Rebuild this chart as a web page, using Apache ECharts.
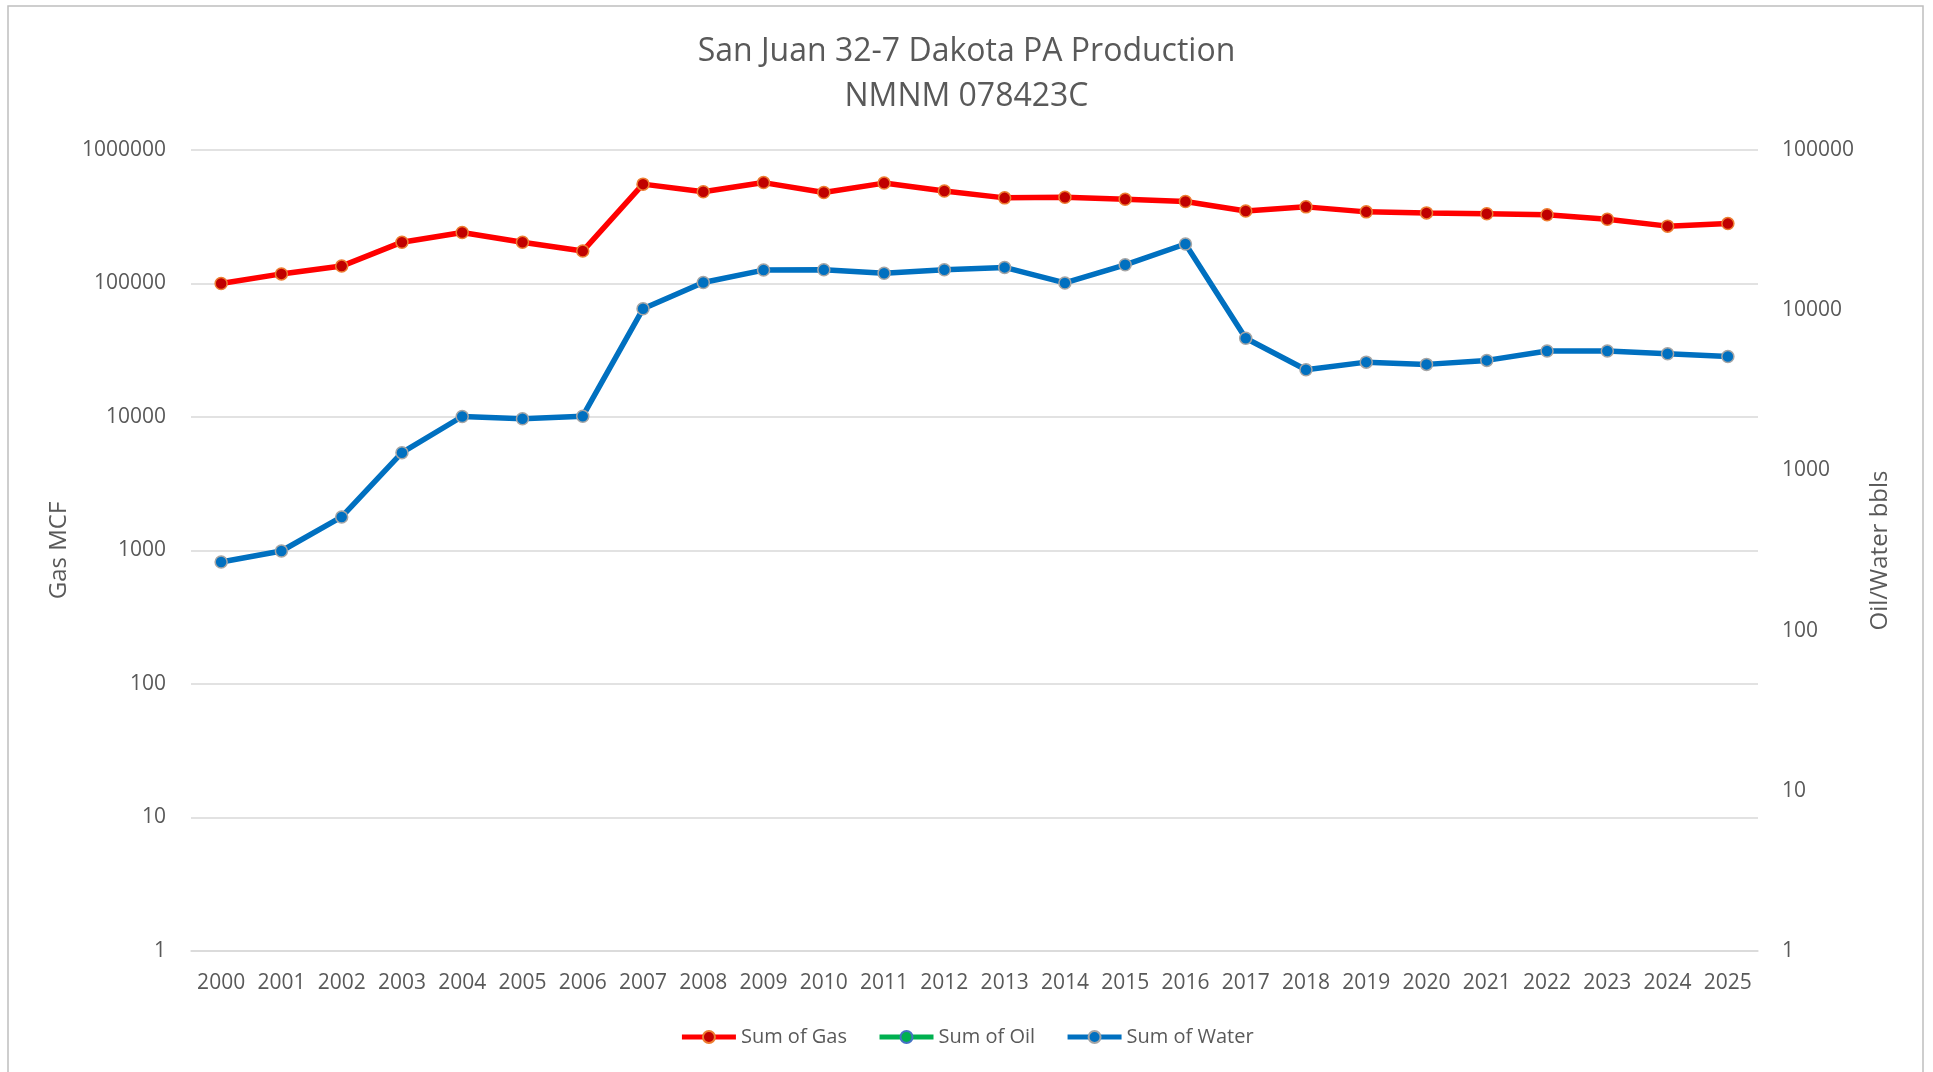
<!DOCTYPE html>
<html>
<head>
<meta charset="utf-8">
<script src="https://cdn.jsdelivr.net/npm/echarts@6/dist/echarts.min.js"></script>
<style>
  html, body { margin: 0; padding: 0; background: #fff; }
  #chart { width: 1933px; height: 1072px; }
</style>
</head>
<body>
<div id="chart"></div>
<script>
// years on the x axis
const years = ['2000', '2001', '2002', '2003', '2004', '2005', '2006', '2007', '2008', '2009',
  '2010', '2011', '2012', '2013', '2014', '2015', '2016', '2017', '2018', '2019',
  '2020', '2021', '2022', '2023', '2024', '2025']

// gas MCF (left axis)
const gasValues = [100000, 118000, 135000, 204000, 241000, 204000, 175000, 555000, 487000, 570000,
  481000, 565000, 493000, 438000, 442000, 428000, 411000, 349000, 375000, 344000,
  338000, 333000, 327000, 303000, 269000, 281000]

// oil bbls (right axis) - nothing plotted in the source
const oilValues = [null, null, null, null, null, null, null, null, null, null,
  null, null, null, null, null, null, null, null, null, null,
  null, null, null, null, null, null]

// water bbls (right axis)
const waterValues = [268, 314, 512, 1290, 2170, 2100, 2180, 10200, 14900, 17800,
  17900, 17000, 17900, 18500, 14800, 19200, 25900, 6680, 4250, 4740,
  4590, 4860, 5570, 5570, 5350, 5140]

const titleLines = ['San Juan 32-7 Dakota PA Production', 'NMNM 078423C']

const FONT = "'Open Sans', 'Segoe UI', sans-serif"
const TEXT = '#595959'
const GRID = '#d9d9d9'

// plain numbers, no thousands separator
const plain = (v) => String(Math.round(v))

const chart = echarts.init(document.getElementById('chart'))

const option = {
  backgroundColor: '#fff',
  animation: false,
  textStyle: { fontFamily: FONT },
  graphic: [{
    type: 'rect',
    silent: true,
    shape: { x: 8, y: 6, width: 1915, height: 1100 },
    style: { fill: 'none', stroke: '#bfbfbf', lineWidth: 1.5 }
  }],
  title: {
    text: titleLines.join('\n'),
    left: 'center',
    top: 24,
    textStyle: {
      fontFamily: FONT,
      fontWeight: 'normal',
      fontSize: 32,
      lineHeight: 45,
      color: TEXT
    }
  },
  legend: {
    bottom: 20,
    left: 'center',
    itemWidth: 54,
    itemHeight: 15,
    itemGap: 30,
    lineStyle: { width: 5 },
    textStyle: { fontFamily: FONT, fontSize: 20, color: TEXT },
    data: ['Sum of Gas', 'Sum of Oil', 'Sum of Water']
  },
  grid: { left: 191, right: 175, top: 150, bottom: 121 },
  xAxis: {
    type: 'category',
    data: years,
    boundaryGap: true,
    axisLine: { lineStyle: { color: GRID, width: 1.5 } },
    axisTick: { show: false },
    axisLabel: { color: TEXT, fontSize: 21, margin: 22, interval: 0, hideOverlap: false }
  },
  yAxis: [
    {
      type: 'log',
      logBase: 10,
      min: 1,
      max: 1000000,
      name: 'Gas MCF',
      nameLocation: 'middle',
      nameRotate: 90,
      nameGap: 120,
      nameTextStyle: { color: TEXT, fontSize: 24 },
      axisLine: { show: false },
      axisTick: { show: false },
      axisLabel: { color: TEXT, fontSize: 21, margin: 25, formatter: plain },
      splitLine: { lineStyle: { color: GRID, width: 1.5 } }
    },
    {
      type: 'log',
      logBase: 10,
      min: 1,
      max: 100000,
      name: 'Oil/Water bbls',
      nameLocation: 'middle',
      nameRotate: 90,
      nameGap: 110,
      nameTextStyle: { color: TEXT, fontSize: 24 },
      axisLine: { show: false },
      axisTick: { show: false },
      axisLabel: { color: TEXT, fontSize: 21, margin: 24, formatter: plain },
      splitLine: { show: false }
    }
  ],
  series: [
    {
      name: 'Sum of Gas',
      type: 'line',
      yAxisIndex: 0,
      data: gasValues,
      symbol: 'circle',
      symbolSize: 12,
      lineStyle: { color: '#ff0000', width: 5.5 },
      itemStyle: { color: '#c00000', borderColor: '#ed7d31', borderWidth: 1.5 }
    },
    {
      name: 'Sum of Oil',
      type: 'line',
      yAxisIndex: 1,
      data: oilValues,
      symbol: 'circle',
      symbolSize: 12,
      lineStyle: { color: '#00b050', width: 5.5 },
      itemStyle: { color: '#00b050', borderColor: '#4472c4', borderWidth: 1.5 }
    },
    {
      name: 'Sum of Water',
      type: 'line',
      yAxisIndex: 1,
      data: waterValues,
      symbol: 'circle',
      symbolSize: 12,
      lineStyle: { color: '#0070c0', width: 5.5 },
      itemStyle: { color: '#0070c0', borderColor: '#a5a5a5', borderWidth: 1.5 }
    }
  ]
}

chart.setOption(option)
</script>
</body>
</html>
